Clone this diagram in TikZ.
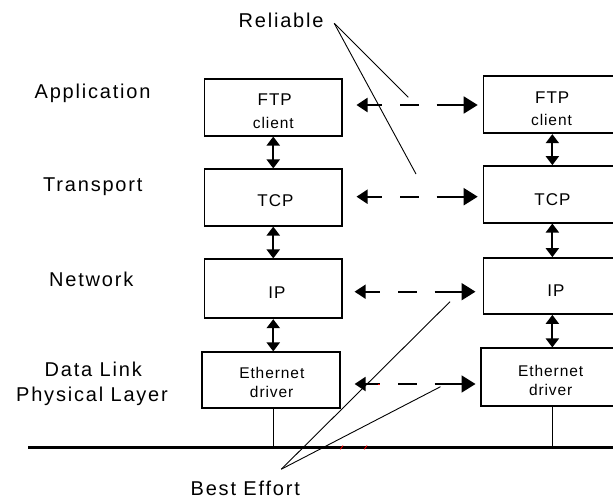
\documentclass[tikz,border=0pt]{standalone}
\usepackage{fontspec}
\setmainfont{Liberation Sans}
\newfontfamily\lblfont[LetterSpace=9]{Liberation Sans}
\newfontfamily\boxfont[LetterSpace=6]{Liberation Sans}
\usetikzlibrary{arrows.meta}
\begin{document}
\begin{tikzpicture}[x=1pt,y=-1pt,
  box/.style={draw, line width=1.7pt, minimum width=137.5pt, inner sep=0pt},
  lbl/.style={font={\lblfont\fontsize{20}{22}\selectfont}, inner sep=0pt, anchor=base west},
  btxt/.style={font={\boxfont\fontsize{17}{18}\selectfont}, inner sep=0pt, anchor=base},
  stxt/.style={font={\boxfont\fontsize{15.5}{18}\selectfont}, inner sep=0pt, anchor=base},
  varrow/.style={line width=2pt, {Triangle[length=9pt,width=13pt]}-{Triangle[length=9pt,width=13pt]}},
  hdash/.style={line width=1.9pt, dash pattern=on 15pt off 18pt on 18.5pt off 18pt on 60pt,
     {Triangle[length=11pt,width=14pt]}-{Triangle[length=14pt,width=17pt]}},
  ptr/.style={line width=0.9pt},
  stub/.style={line width=1.4pt},
  bus/.style={line width=3.4pt},
  redmark/.style={red, line width=0.8pt}]
\useasboundingbox (0,0) rectangle (613,503);
\clip (0,0) rectangle (613,503);
\fill[white] (0,0) rectangle (613,503);

% layer labels
\node[lbl] (lapp) at (34.5,99) {Application};
\node[lbl] (ltra) at (43,191) {Transport};
\node[lbl] (lnet) at (49,286) {Network};
\node[lbl] (ldl) at (44.5,376) {Data Link};
\node[lbl] (lphy) at (16,401.5) {Physical Layer};
\node[lbl] (lrel) at (238.5,27.3) {Reliable};
\node[lbl] (lbe) at (190.5,495.7) {Best Effort};

% left stack
\node[box, minimum height=56.7pt] (lftp) at (273.25,107.35) {};
\node[box, minimum height=56.4pt] (ltcp) at (273.25,197.5) {};
\node[box, minimum height=59pt] (lip) at (273.25,288.8) {};
\node[box, minimum height=56pt] (leth) at (270.9,380.3) {};

% right stack
\node[box, minimum height=57.6pt] (rftp) at (552.35,104.5) {};
\node[box, minimum height=56.7pt] (rtcp) at (552.35,194.35) {};
\node[box, minimum height=56pt] (rip) at (552.35,286) {};
\node[box, minimum height=57.7pt] (reth) at (549.75,377.15) {};

% box texts
\node[btxt] (tlftp1) at (274.7,106) {FTP};
\node[stxt] (tlftp2) at (273.3,128) {client};
\node[btxt] (trftp1) at (552.2,103) {FTP};
\node[stxt] (trftp2) at (551.5,125) {client};
\node[btxt] (tltcp) at (275.5,206.5) {TCP};
\node[btxt] (trtcp) at (552.5,205) {TCP};
\node[btxt] (tlip) at (277,298) {IP};
\node[btxt] (trip) at (556,296.5) {IP};
\node[stxt] (tleth1) at (271.8,378) {Ethernet};
\node[stxt] (tleth2) at (271.7,397) {driver};
\node[stxt] (treth1) at (550.7,376.5) {Ethernet};
\node[stxt] (treth2) at (550.7,395.5) {driver};

% vertical arrows
\draw[varrow] (lftp.south) -- (ltcp.north);
\draw[varrow] (ltcp.south) -- (lip.north);
\draw[varrow] (lip.south) -- (lip.south |- leth.north);
\draw[varrow] (rftp.south) -- (rtcp.north);
\draw[varrow] (rtcp.south) -- (rip.north);
\draw[varrow] (rip.south) -- (rip.south |- reth.north);

% peer dashed arrows
\coordinate (h1l) at (356.5,105);   \coordinate (h1r) at (477.7,105);
\coordinate (h2l) at (356.5,196.7); \coordinate (h2r) at (477.7,196.7);
\coordinate (h3l) at (354.6,291.7); \coordinate (h3r) at (475.5,291.7);
\coordinate (h4l) at (354.6,384);   \coordinate (h4r) at (475.5,384);
\draw[hdash] (h1l) -- (h1r);
\draw[hdash] (h2l) -- (h2r);
\draw[hdash] (h3l) -- (h3r);
\draw[hdash] (h4l) -- (h4r);

% bus and stubs
\coordinate (busL) at (28,447.3);
\coordinate (busR) at (616,447.3);
\draw[bus] (busL) -- (busR);
\draw[stub] (ltcp.south |- leth.south) -- (ltcp.south |- busL);
\draw[stub] (rip.south |- reth.south) -- (rip.south |- busL);

% pointer lines
\coordinate (relp) at (334.2,23.3);
\coordinate (relA) at (408.3,97.3);
\coordinate (relB) at (416,174);
\draw[ptr] (relp) -- (relA);
\draw[ptr] (relp) -- (relB);
\coordinate (bep) at (281.3,469.2);
\coordinate (beA) at (450,301.7);
\coordinate (beB) at (440.5,386.7);
\draw[ptr] (bep) -- (beA);
\draw[ptr] (bep) -- (beB);

% small red marks
\draw[redmark] (340.3,449.3) -- (343,445.5);
\draw[redmark] (364.3,449.3) -- (367,445.5);
\draw[redmark] (377.5,384) -- (380,384);
\end{tikzpicture}
\end{document}
